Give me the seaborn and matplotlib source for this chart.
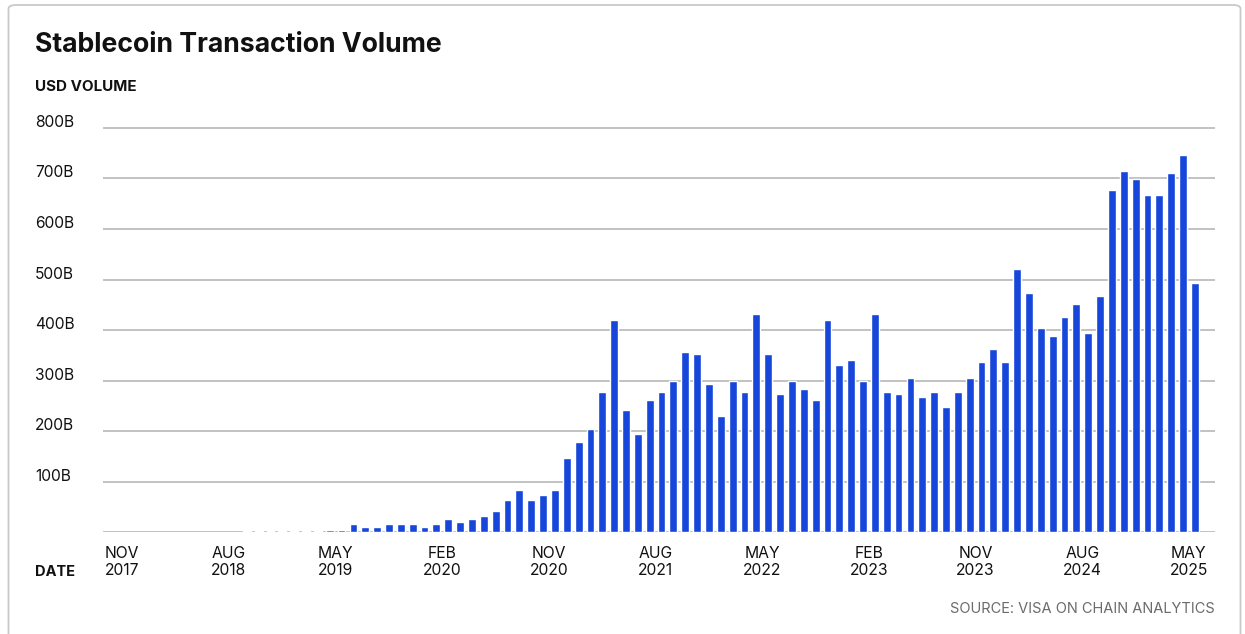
import matplotlib
matplotlib.use('Agg')
import matplotlib.pyplot as plt
from matplotlib.patches import FancyBboxPatch
import seaborn as sns
import pandas as pd

# data: monthly stablecoin volume, Sep 2018 - May 2025 (billions USD)
months = pd.period_range('2018-09', '2025-05', freq='M')
volume = [2.5, 2.5, 2.5, 2.5, 2.5, 2.5, 2.5, 4.5, 4.5, 16,
          10.5, 10.5, 16, 16, 16, 10.5, 16, 26, 21, 26,
          32, 42, 63, 83.5, 63, 73, 83.5, 147, 178, 205,
          278, 420, 241, 194, 262, 278, 300, 357, 352, 294,
          231, 300, 278, 431, 352, 273, 300, 283, 262, 420,
          331, 341, 300, 431, 278, 273, 305, 268, 278, 247,
          278, 305, 336, 362, 336, 520, 473, 405, 389, 426,
          452, 394, 468, 678, 715, 699, 668, 668, 710, 747,
          494]

tick_labels = ['NOV\n2017', 'AUG\n2018', 'MAY\n2019', 'FEB\n2020', 'NOV\n2020',
               'AUG\n2021', 'MAY\n2022', 'FEB\n2023', 'NOV\n2023', 'AUG\n2024',
               'MAY\n2025']
y_ticks = [100, 200, 300, 400, 500, 600, 700, 800]
y_labels = ['100B', '200B', '300B', '400B', '500B', '600B', '700B', '800B']

start = pd.Period('2017-11', freq='M')
# month index since Nov 2017, bar centred in the middle of the month
df = pd.DataFrame({'pos': [(m - start).n + 0.5 for m in months], 'volume': volume})
tick_pos = [i * 9 for i in range(len(tick_labels))]

sns.set_style('white')
plt.rcParams['font.family'] = ['Inter', 'DejaVu Sans']

W, H = 1245, 634
fig = plt.figure(figsize=(W / 100, H / 100), dpi=100)

# card border
card = FancyBboxPatch((8.5 / W, -20 / H), (1240.5 - 8.5) / W, (H - 5 + 20) / H,
                      boxstyle='round,pad=0,rounding_size=0.006',
                      transform=fig.transFigure, facecolor='none',
                      edgecolor='#c9c9c9', linewidth=1.3, zorder=0)
fig.patches.append(card)

base_y = 532.3
top_y = 122.9
ax = fig.add_axes([103 / W, (H - base_y) / H, (1215 - 103) / W, (base_y - top_y) / H])
ax.set_facecolor('none')
ax.set_zorder(2)

sns.barplot(data=df, x='pos', y='volume', native_scale=True, width=0.66,
            color='#1746da', saturation=1, ax=ax, zorder=3)

ax.set_xlim(-1.63, 92.2)
ax.set_ylim(0, 810)
ax.set_yticks([0] + y_ticks)
ax.set_yticklabels([])
ax.tick_params(axis='y', length=0)
ax.grid(axis='y', color='#bdbdbd', linewidth=1.3, zorder=0)
ax.grid(axis='x', visible=False)
ax.set_axisbelow(True)
for s in ax.spines.values():
    s.set_visible(False)

ax.set_xticks(tick_pos)
ax.set_xticklabels(tick_labels, fontsize=11.3, color='#111111', linespacing=1.12)
ax.tick_params(axis='x', length=7.5, width=1.2, color='#b5b5b5', pad=2.5)
ax.set_xlabel('')
ax.set_ylabel('')

for v, lab in zip(y_ticks, y_labels):
    ax.annotate(lab, xy=(35 / W, v), xycoords=('figure fraction', 'data'),
                xytext=(0, 1), textcoords='offset pixels',
                ha='left', va='baseline', fontsize=11.2, color='#111111',
                annotation_clip=False)

fig.text(35 / W, (H - 52) / H, 'Stablecoin Transaction Volume',
         fontsize=19.2, fontweight='bold', color='#111111', va='baseline')
fig.text(35 / W, (H - 90.7) / H, 'USD VOLUME',
         fontsize=10.9, fontweight='bold', color='#111111', va='baseline')
fig.text(35 / W, (H - 576) / H, 'DATE',
         fontsize=10.5, fontweight='bold', color='#111111', va='baseline')
fig.text(1215 / W, (H - 613) / H, 'SOURCE: VISA ON CHAIN ANALYTICS',
         fontsize=10.5, color='#6b6b6b', ha='right', va='baseline')

fig.savefig('out.png', dpi=100)
